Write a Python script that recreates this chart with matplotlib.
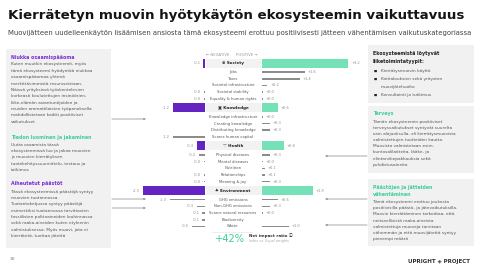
import matplotlib
matplotlib.use("Agg")
import matplotlib.pyplot as plt
from matplotlib.patches import Rectangle
import numpy as np

# ---------------- data ----------------
categories = ["Society", "Knowledge", "Health", "Environment"]
cat_icons = ["⊕", "▣", "♡", "♣"]
cat_pos = [3.2, 0.6, 0.8, 1.9]
cat_neg = [0.06, 1.2, 0.3, 2.3]

sub_group = [0, 0, 0, 0, 0, 1, 1, 1, 1, 2, 2, 2, 2, 2, 3, 3, 3, 3, 3]
sub_labels = ["Jobs", "Taxes", "Societal infrastructure", "Societal stability",
              "Equality & human rights",
              "Knowledge infrastructure", "Creating knowledge",
              "Distributing knowledge", "Scarce human capital",
              "Physical diseases", "Mental diseases", "Nutrition",
              "Relationships", "Meaning & joy",
              "GHG emissions", "Non-GHG emissions", "Scarce natural resources",
              "Biodiversity", "Waste"]
sub_pos = [1.6, 1.4, 0.2, 0.0, 0.0,
           0.0, 0.3, 0.3, np.nan,
           0.3, 0.0, 0.1, 0.1, 0.3,
           0.6, 0.3, 0.0, np.nan, 1.0]
sub_neg = [np.nan, np.nan, np.nan, 0.03, 0.03,
           np.nan, np.nan, np.nan, 1.2,
           0.24, 0.02, np.nan, 0.02, 0.02,
           1.3, 0.3, 0.1, 0.1, 0.5]
net_impact = "+42%"

title = "Kierrätetyn muovin hyötykäytön ekosysteemin vaikuttavuus"
subtitle = ("Muovijätteen uudelleenkäytön lisäämisen ansiosta tämä ekosysteemi erottuu "
            "positiivisesti jätteen vähentämisen vaikutuskategoriassa")

left_sections = [
    ("Niukka osaamispääoma", "p",
     ["Kuten muutkin ekosysteemit, myös",
      "tämä ekosysteemi hyödyntää niukkaa",
      "osaamispääomaa yhtenä",
      "merkittävimmistä resursseistaan.",
      "Näissä yrityksissä työskentelevien",
      "korkeasti koulutettujen insinöörien,",
      "liike-elämän asiantuntijoiden ja",
      "muiden ammattilaisten työpanoksella",
      "mahdollistetaan kaikki positiiviset",
      "vaikutukset"]),
    ("Tiedon luominen ja jakaminen", "g",
     ["Uutta osaamista tässä",
      "ekosysteemissä luo ja jakaa muovien",
      "ja muovien kierrätyksen",
      "tuotekehityssuunnittelu, testaus ja",
      "tutkimus"]),
    ("Aiheutetut päästöt", "p",
     ["Tässä ekosysteemissä päästöjä syntyy",
      "muovien tuotannossa.",
      "Tuotantoketjussa syntyy päästöjä",
      "esimerkiksi tuotannossa tarvittavien",
      "fossiilisten polttoaineiden louhinnassa",
      "sekä raaka-aineiden kuten etyleenin",
      "valmistuksessa. Myös muovi, jota ei",
      "kierrätetä, tuottaa jätettä"]),
]
bus_head = ["Ekosysteemistä löytyvät", "liiketoimintatyypit:"]
bus_items = [["Kierrätysmuovin käyttö"],
             ["Kotitalouksien sekä yritysten", "muovijätehuolto"],
             ["Konsultointi ja tutkimus"]]
health_head = ["Terveys"]
health_body = ["Tämän ekosysteemin positiiviset",
               "terveysvaikutukset syntyvät suurelta",
               "osin alajuoksulla, eli kierrätysmuovista",
               "valmistettujen tuotteiden kautta.",
               "Muovista valmistetaan esim.",
               "kuntosalilaitteita, lääke- ja",
               "elintarvikepakkauksia sekä",
               "puhdistusaineita"]
emis_head = ["Päästöjen ja jätteiden", "vähentäminen"]
emis_body = ["Tämä ekosysteemi erottuu joukosta",
             "positiivisilla päästö- ja jätevaikutuksilla.",
             "Muovin kierrättäminen tarkoittaa, että",
             "neitseellisistä raaka-aineista",
             "valmistettuja muoveja tarvitaan",
             "vähemmän ja että muovijätettä syntyy",
             "pienempi määrä"]

# ---------------- style ----------------
PURPLE = "#6424c2"
GREEN = "#74e2b6"
GREEN_T = "#3fcf96"
PURPLE_T = "#7a2fd6"
GRAY = "#8c8c8c"
BOX = "#f1f1f1"
TXT = "#555555"
plt.rcParams["font.family"] = ["DejaVu Sans", "Noto Sans CJK JP"]

W, H = 480, 268
fig = plt.figure(figsize=(4.8, 2.68), dpi=100)
fig.patch.set_facecolor("white")
ov = fig.add_axes([0, 0, 1, 1])
ov.set_xlim(0, W)
ov.set_ylim(H, 0)
ov.axis("off")
renderer = fig.canvas.get_renderer()


def fit(x, y, s, width, **kw):
    t = ov.text(x, y, s, **kw)
    w = t.get_window_extent(renderer).width
    t.set_fontsize(t.get_fontsize() * width / w)
    return t


fit(8, 15, title, 454, fontsize=12, fontweight="bold", va="center", color="#151515")
fit(8, 33, subtitle, 460, fontsize=4, va="center", color="#444444")

BODY_FS = 3.05
HEAD_FS = 3.4

# left box
ov.add_patch(Rectangle((6, 49), 105, 199, fc=BOX, ec="none"))
heads_y = [57, 137, 184]
for (head, col, body), hy in zip(left_sections, heads_y):
    ov.text(11, hy, head, fontsize=HEAD_FS, fontweight="bold",
            color=PURPLE_T if col == "p" else GREEN_T, va="center")
    for i, line in enumerate(body):
        ov.text(11, hy + 7.5 + i * 6.35, line, fontsize=BODY_FS, color=TXT, va="center")

# right boxes
ov.add_patch(Rectangle((368, 45), 106, 58, fc=BOX, ec="none"))
ov.add_patch(Rectangle((368, 106), 106, 67, fc=BOX, ec="none"))
ov.add_patch(Rectangle((368, 179), 106, 67, fc=BOX, ec="none"))
for i, line in enumerate(bus_head):
    ov.text(373, 54 + i * 8, line, fontsize=HEAD_FS, fontweight="bold", color="#222222", va="center")
yy = 71
for item in bus_items:
    ov.text(374, yy, "■", fontsize=2.4, color="#222222", va="center")
    for line in item:
        ov.text(381, yy, line, fontsize=BODY_FS, color=TXT, va="center")
        yy += 8
for i, line in enumerate(health_head):
    ov.text(373, 114, line, fontsize=HEAD_FS, fontweight="bold", color=GREEN_T, va="center")
for i, line in enumerate(health_body):
    ov.text(373, 122 + i * 6.1, line, fontsize=BODY_FS, color=TXT, va="center")
for i, line in enumerate(emis_head):
    ov.text(373, 188 + i * 6.3, line, fontsize=HEAD_FS, fontweight="bold", color=GREEN_T, va="center")
for i, line in enumerate(emis_body):
    ov.text(373, 202 + i * 6.2, line, fontsize=BODY_FS, color=TXT, va="center")

# connectors
for y in [119, 199, 208]:
    ov.annotate("", xy=(146, y), xytext=(112, y),
                arrowprops=dict(arrowstyle="-|>", color="#9a9a9a", lw=0.6,
                                mutation_scale=2.5, shrinkA=0, shrinkB=0))
for y in [156, 199, 225]:
    ov.annotate("", xy=(325, y), xytext=(367, y),
                arrowprops=dict(arrowstyle="-|>", color="#9a9a9a", lw=0.6,
                                mutation_scale=2.5, shrinkA=0, shrinkB=0))

# footer
ov.text(10, 259, "30", fontsize=3.2, color="#777777", va="center")
fit(408, 261, "UPRIGHT ◈ PROJECT", 61, fontsize=4, fontweight="bold", color="#333333", va="center")

# ---------------- chart ----------------
HEAD_GAP, SUB_GAP = 9.0, 6.7
y = 63.0
cat_y = []
sub_y = []
for g in range(len(categories)):
    cat_y.append(y)
    idx = [i for i, gg in enumerate(sub_group) if gg == g]
    for k, _ in enumerate(idx):
        y += HEAD_GAP if k == 0 else SUB_GAP
        sub_y.append(y)
    y += HEAD_GAP

PXU = 27.0
NEG_MAX, POS_MAX = 2.6, 3.7
Y_TOP, Y_BOT = 50, 240
neg_left = 205 - NEG_MAX * PXU
axn = fig.add_axes([neg_left / W, 1 - Y_BOT / H, NEG_MAX * PXU / W, (Y_BOT - Y_TOP) / H])
axp = fig.add_axes([262 / W, 1 - Y_BOT / H, POS_MAX * PXU / W, (Y_BOT - Y_TOP) / H])
for ax, lim in [(axn, (-NEG_MAX, 0)), (axp, (0, POS_MAX))]:
    ax.set_xlim(*lim)
    ax.set_ylim(Y_BOT, Y_TOP)
    ax.axis("off")
    ax.patch.set_alpha(0)

LFS = 2.6
axn.barh(cat_y, [-v for v in cat_neg], height=9, color=PURPLE)
axp.barh(cat_y, cat_pos, height=9, color=GREEN)
for cy, vn, vp in zip(cat_y, cat_neg, cat_pos):
    axn.annotate(f"-{vn:.1f}", (-vn, cy), xytext=(-2, 0), textcoords="offset points",
                 ha="right", va="center", fontsize=LFS, color=GRAY)
    axp.annotate(f"+{vp:.1f}", (vp, cy), xytext=(2, 0), textcoords="offset points",
                 ha="left", va="center", fontsize=LFS, color=GRAY)

for sy, vn, vp in zip(sub_y, sub_neg, sub_pos):
    if not np.isnan(vn):
        axn.barh(sy, -max(vn, 0.03), height=1.6, color=GRAY)
        axn.annotate(f"-{vn:.1f}", (-max(vn, 0.03), sy), xytext=(-2, 0),
                     textcoords="offset points", ha="right", va="center",
                     fontsize=LFS, color=GRAY)
    if not np.isnan(vp):
        axp.barh(sy, max(vp, 0.03), height=1.6, color=GRAY)
        axp.annotate(f"+{vp:.1f}", (max(vp, 0.03), sy), xytext=(2, 0),
                     textcoords="offset points", ha="left", va="center",
                     fontsize=LFS, color=GRAY)

for cy, name, ic in zip(cat_y, categories, cat_icons):
    ov.add_patch(Rectangle((206, cy - 4.5), 55, 9, fc="#f2f2f2", ec="none"))
    ov.text(233, cy, f"{ic} {name}", fontsize=3.0, fontweight="bold",
            color="#222222", ha="center", va="center")
for sy, name in zip(sub_y, sub_labels):
    ov.text(233, sy, name, fontsize=2.7, color="#555555", ha="center", va="center")

ov.text(229, 55, "← NEGATIVE", fontsize=2.7, color="#9a9a9a", ha="right", va="center")
ov.text(236, 55, "POSITIVE →", fontsize=2.7, color="#9a9a9a", ha="left", va="center")

ov.plot([212, 252], [232, 232], color="#e6e6e6", lw=0.5)
fit(215, 239, net_impact, 30, fontsize=10, color=GREEN_T, va="center")
ov.text(249, 236, "Net impact ratio ⓘ", fontsize=3.0, fontweight="bold", color="#333333", va="center")
ov.text(249, 241, "Index vs. Equal weights", fontsize=2.4, color="#aaaaaa", va="center")

fig.savefig("out.png", dpi=100, facecolor="white")
